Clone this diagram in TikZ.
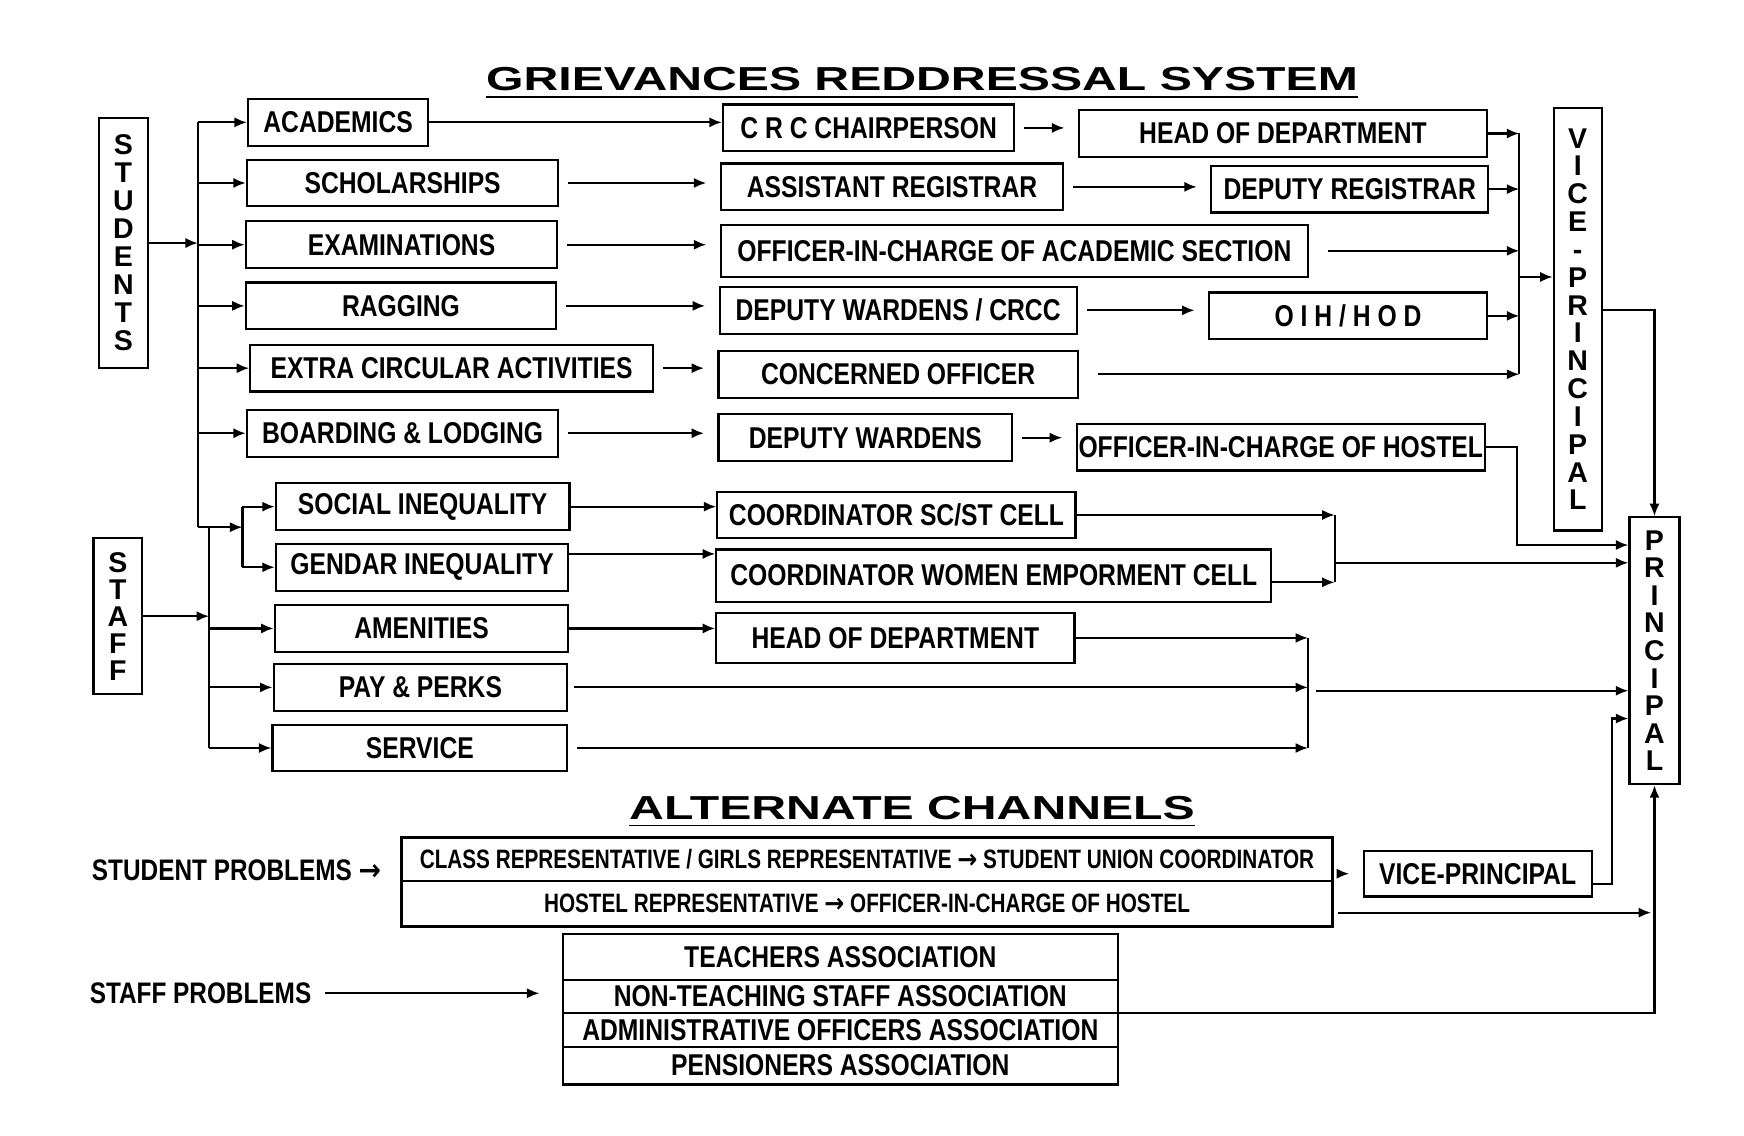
\documentclass[tikz,border=0pt]{standalone}
\usepackage{fontspec}
\setmainfont{Liberation Sans}
\newfontfamily\boxfont[FakeStretch=0.82]{Liberation Sans}
\newfontfamily\rowfont[FakeStretch=0.78]{Liberation Sans}
\newfontfamily\headfont[FakeStretch=1.45]{Liberation Sans}
\newfontfamily\arrowfont[FakeStretch=0.9]{DejaVu Sans}
\newcommand{\toarrow}{{\arrowfont\bfseries →}}
\usepackage{tikz}
\usetikzlibrary{arrows.meta}

\tikzset{
  line/.style={line width=0.55pt},
  arr/.style={-{Latex[length=3.2pt,width=2.6pt]}, line width=0.55pt},
  gap/.style={shorten <=0.08cm, shorten >=0.12cm},
  box/.style={draw, line width=0.55pt, inner sep=0pt, minimum height=0.42cm,
    font=\boxfont\bfseries\fontsize{7.7}{9}\selectfont},
  vbox/.style={draw, line width=0.55pt, inner sep=0pt, align=center, minimum width=0.44cm,
    font=\bfseries\fontsize{7.3}{#1}\selectfont},
  row/.style={draw, line width=0.55pt, inner sep=0pt, outer sep=0pt, minimum width=8.37cm,
    font=\rowfont\bfseries\fontsize{6.8}{8}\selectfont},
  assoc/.style={box, outer sep=0pt, minimum width=4.99cm, minimum height=0.30cm},
  lbl/.style={inner sep=0pt, font=\boxfont\bfseries\fontsize{7.6}{9}\selectfont},
  head/.style={inner sep=0pt, font=\headfont\bfseries\fontsize{8.5}{10}\selectfont}
}

\begin{document}
\begin{tikzpicture}
  \useasboundingbox (0,0) rectangle (15.68,-10.21);

  \node[head] (title) at (8.29,-0.75) {\underline{GRIEVANCES REDDRESSAL SYSTEM}};

  \node[vbox=7.17pt, minimum height=2.25cm] (stud) at (1.11,-2.185) {S\\T\\U\\D\\E\\N\\T\\S};
  \node[vbox=6.9pt, minimum height=1.40cm] (staff) at (1.06,-5.54) {S\\T\\A\\F\\F};
  \node[vbox=7.12pt, minimum width=0.43cm, minimum height=3.80cm] (vp) at (14.185,-2.87) {V\\I\\C\\E\\-\\P\\R\\I\\N\\C\\I\\P\\A\\L};
  \node[vbox=7.06pt, minimum width=0.45cm, minimum height=2.40cm] (princ) at (14.875,-5.85) {P\\R\\I\\N\\C\\I\\P\\A\\L};

  \node[box, minimum width=1.62cm] (acad) at (3.04,-1.10) {ACADEMICS};
  \node[box, minimum width=2.80cm] (schol) at (3.62,-1.645) {SCHOLARSHIPS};
  \node[box, minimum width=2.80cm] (exam) at (3.61,-2.20) {EXAMINATIONS};
  \node[box, minimum width=2.79cm] (rag) at (3.605,-2.75) {RAGGING};
  \node[box, minimum width=3.62cm] (extra) at (4.06,-3.31) {EXTRA CIRCULAR ACTIVITIES};
  \node[box, minimum width=2.80cm] (board) at (3.62,-3.895) {BOARDING \& LODGING};
  \node[box, minimum width=2.64cm] (soc) at (3.80,-4.555) {SOCIAL INEQUALITY};
  \node[box, minimum width=2.63cm] (gen) at (3.795,-5.10) {GENDAR INEQUALITY};
  \node[box, minimum width=2.64cm] (amen) at (3.79,-5.65) {AMENITIES};
  \node[box, minimum width=2.64cm] (pay) at (3.78,-6.18) {PAY \& PERKS};
  \node[box, minimum width=2.65cm] (serv) at (3.775,-6.725) {SERVICE};

  \node[box, minimum width=2.62cm] (crc) at (7.81,-1.15) {C R C CHAIRPERSON};
  \node[box, minimum width=3.08cm] (asst) at (8.02,-1.68) {ASSISTANT REGISTRAR};
  \node[box, minimum width=5.28cm, minimum height=0.47cm] (oica) at (9.12,-2.255) {OFFICER-IN-CHARGE OF ACADEMIC SECTION};
  \node[box, minimum width=3.21cm] (dwc) at (8.075,-2.79) {DEPUTY WARDENS / CRCC};
  \node[box, minimum width=3.23cm] (conc) at (8.075,-3.365) {CONCERNED OFFICER};
  \node[box, minimum width=2.64cm] (dw) at (7.78,-3.935) {DEPUTY WARDENS};
  \node[box, minimum width=3.22cm] (scst) at (8.06,-4.63) {COORDINATOR SC/ST CELL};
  \node[box, minimum width=4.99cm, minimum height=0.47cm] (women) at (8.935,-5.175) {COORDINATOR WOMEN EMPORMENT CELL};
  \node[box, minimum width=3.22cm, minimum height=0.45cm] (hodb) at (8.05,-5.735) {HEAD OF DEPARTMENT};

  \node[box, minimum width=3.67cm] (hod) at (11.535,-1.20) {HEAD OF DEPARTMENT};
  \node[box, minimum width=2.49cm] (dreg) at (12.135,-1.70) {DEPUTY REGISTRAR};
  \node[box, minimum width=2.50cm] (oih) at (12.12,-2.84) {O I H / H O D};
  \node[box, minimum width=3.67cm] (oich) at (11.515,-4.02) {OFFICER-IN-CHARGE OF HOSTEL};

  \node[head] (alt) at (8.20,-7.30) {\underline{ALTERNATE CHANNELS}};
  \node[lbl, anchor=west] (sprob) at (0.82,-7.82) {STUDENT PROBLEMS \toarrow};
  \node[row, minimum height=0.39cm] (rowa) at (7.795,-7.725) {CLASS REPRESENTATIVE / GIRLS REPRESENTATIVE \toarrow{} STUDENT UNION COORDINATOR};
  \node[row, minimum height=0.41cm, anchor=north] (rowb) at (rowa.south) {HOSTEL REPRESENTATIVE \toarrow{} OFFICER-IN-CHARGE OF HOSTEL};
  \node[box, minimum width=2.05cm, minimum height=0.41cm] (vpb) at (13.285,-7.855) {VICE-PRINCIPAL};
  \node[lbl, anchor=west] (fprob) at (0.80,-8.93) {STAFF PROBLEMS};
  \node[assoc, minimum height=0.41cm] (ta) at (7.555,-8.605) {TEACHERS ASSOCIATION};
  \node[assoc, anchor=north] (nta) at (ta.south) {NON-TEACHING STAFF ASSOCIATION};
  \node[assoc, anchor=north] (aoa) at (nta.south) {ADMINISTRATIVE OFFICERS ASSOCIATION};
  \node[assoc, anchor=north, minimum height=0.34cm] (pa) at (aoa.south) {PENSIONERS ASSOCIATION};

  \coordinate (sj) at (1.78,-4.74);
  \coordinate (gj) at (2.18,-4.74);
  \coordinate (tj) at (1.88,-4.74);
  \draw[line] (sj |- acad.west) -- (sj);
  \draw[arr] (sj) -- (gj);
  \draw[line] (gj |- soc.west) -- (gj |- gen.west);
  \draw[arr] (stud.east) -- (stud.east -| sj);
  \foreach \n in {acad,schol,exam,rag,extra,board}
    \draw[arr] (sj |- \n.west) -- (\n.west);
  \foreach \n in {soc,gen}
    \draw[arr] (gj |- \n.west) -- (\n.west);
  \draw[line] (tj) -- (tj |- serv.west);
  \draw[arr] (staff.east) -- (staff.east -| tj);
  \foreach \n in {amen,pay,serv}
    \draw[arr] (tj |- \n.west) -- (\n.west);

  \draw[arr] (acad.east) -- (acad.east -| crc.west);
  \foreach \a/\b in {schol/asst,exam/oica,rag/dwc,extra/conc,board/dw,crc/hod,asst/dreg,dwc/oih,dw/oich}
    \draw[arr,gap] (\a.east) -- (\a.east -| \b.west);
  \draw[arr] (soc.east) -- (soc.east -| scst.west);
  \draw[arr] ([yshift=0.12cm]gen.east) -- ([yshift=0.12cm]gen.east -| women.west);
  \draw[arr] (amen.east) -- (amen.east -| hodb.west);

  \coordinate (vj) at (13.66,-2.49);
  \draw[line] (vj |- hod.east) -- (vj |- conc.east);
  \foreach \n in {hod,dreg,oih}
    \draw[arr] (\n.east) -- (\n.east -| vj);
  \foreach \n in {oica,conc}
    \draw[arr, shorten <=0.17cm] (\n.east) -- (\n.east -| vj);
  \draw[arr] (vj) -- (vj -| vp.west);
  \draw[arr] ([yshift=0.08cm]vp.east) -| (princ.north);

  \coordinate (hj) at (13.64,-4.90);
  \draw[arr] (oich.east) -| (hj) -- (hj -| princ.west);

  \coordinate (cj) at (12.00,-5.06);
  \draw[arr] (scst.east) -- (scst.east -| cj);
  \draw[arr] ([yshift=-0.06cm]women.east) -- ([yshift=-0.06cm]women.east -| cj);
  \draw[line] (cj |- scst.east) -- ([yshift=-0.06cm]women.east -| cj);
  \draw[arr] (cj) -- (cj -| princ.west);

  \coordinate (dj) at (11.76,-6.21);
  \draw[arr] (hodb.east) -- (hodb.east -| dj);
  \draw[arr, shorten <=0.05cm] (pay.east) -- (pay.east -| dj);
  \draw[arr, shorten <=0.08cm] (serv.east) -- (serv.east -| dj);
  \draw[line] (dj |- hodb.east) -- (dj |- serv.east);
  \draw[arr, shorten <=0.07cm] (dj) -- (dj -| princ.west);

  \coordinate (wj) at (14.49,-6.46);
  \draw[arr,gap] (rowa.east |- vpb.west) -- (vpb.west);
  \draw[arr] ([yshift=-0.09cm]vpb.east) -| (wj) -- (wj -| princ.west);
  \draw[arr, shorten <=0.05cm, shorten >=0.03cm] ([yshift=-0.08cm]rowb.east) -- ([yshift=-0.08cm]rowb.east -| princ.south);
  \draw[arr, shorten <=0.12cm, shorten >=0.21cm] (fprob.east) -- (fprob.east -| nta.west);
  \draw[arr] (aoa.north east) -| (princ.south);
\end{tikzpicture}
\end{document}
